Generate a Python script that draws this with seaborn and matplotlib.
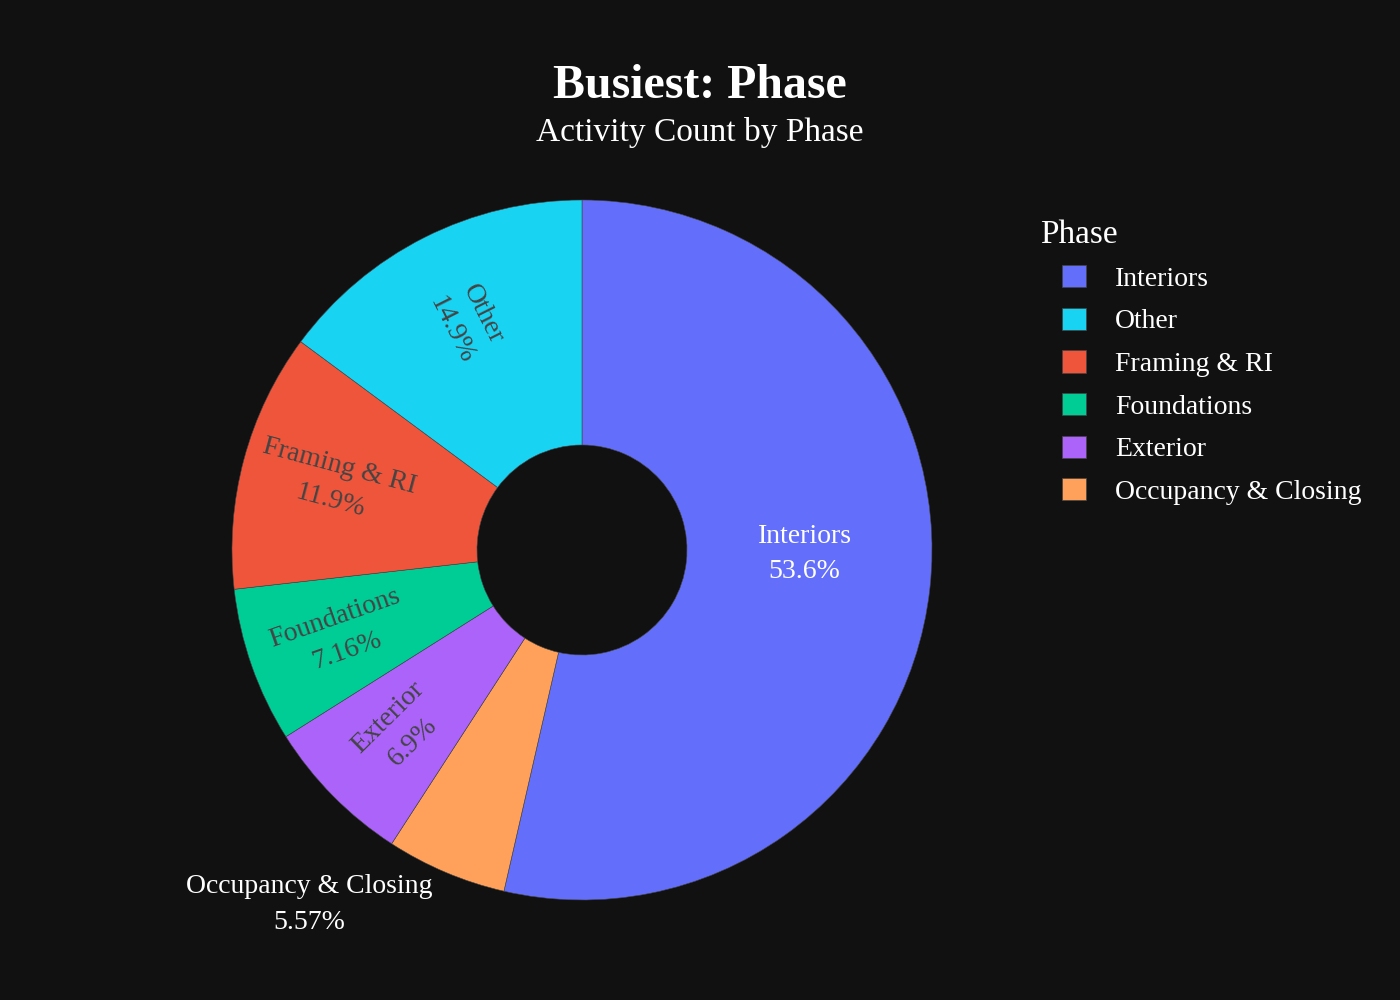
import numpy as np
import matplotlib.pyplot as plt
import seaborn as sns
from matplotlib.patches import Patch

# slices in drawing order (clockwise from 12 o'clock)
phases = ["Interiors", "Occupancy & Closing", "Exterior", "Foundations", "Framing & RI", "Other"]
counts = [202, 21, 26, 27, 45, 56]
colors = ["#636EFA", "#FFA15A", "#AB63FA", "#00CC96", "#EF553B", "#19D3F3"]
label_modes = ["horizontal", "outside", "radial", "radial", "radial", "radial"]
legend_order = ["Interiors", "Other", "Framing & RI", "Foundations", "Exterior", "Occupancy & Closing"]

BG = "#111111"
sns.set_theme(style="dark")
plt.rcParams["font.family"] = ["Liberation Serif", "DejaVu Serif"]

fig = plt.figure(figsize=(14, 10), dpi=100, facecolor=BG)
ax = fig.add_axes([232 / 1400, 100 / 1000, 700 / 1400, 700 / 1000])
ax.set_facecolor(BG)

wedges, _ = ax.pie(counts, colors=colors, startangle=90, counterclock=False,
                   radius=1.0, wedgeprops=dict(width=0.7, edgecolor="#444444", linewidth=0.4))
ax.set_xlim(-1, 1)
ax.set_ylim(-1, 1)
ax.set_aspect("equal")
ax.axis("off")

total = sum(counts)
for w, name, c, mode in zip(wedges, phases, counts, label_modes):
    pct = 100 * c / total
    txt = f"{name}\n{pct:.3g}%"
    mid_deg = ((w.theta1 + w.theta2) / 2) % 360
    mid = np.deg2rad(mid_deg)
    if mode == "outside":
        r = 1.1
        ax.text(r * np.cos(mid), r * np.sin(mid), txt, ha="right", va="center",
                color="white", fontsize=20, linespacing=1.55, multialignment="center")
    elif mode == "horizontal":
        r = 0.64
        ax.text(r * np.cos(mid), r * np.sin(mid) + 0.06, txt, ha="center", va="center",
                color="white", fontsize=20, linespacing=1.55)
    else:
        r = 0.73
        rot = (mid_deg + 90) % 180 - 90
        ax.text(r * np.cos(mid), r * np.sin(mid), txt, ha="center", va="center",
                color="#444444", fontsize=20, linespacing=1.55,
                rotation=rot, rotation_mode="anchor")

fig.text(0.5, 1 - 98 / 1000, "Busiest: Phase", ha="center", va="baseline",
         color="white", fontsize=34.5, fontweight="bold")
fig.text(0.5, 1 - 141 / 1000, "Activity Count by Phase", ha="center", va="baseline",
         color="white", fontsize=24)

fig.text(1040 / 1400, 1 - 243 / 1000, "Phase", ha="left", va="baseline",
         color="white", fontsize=24)
color_map = dict(zip(phases, colors))
handles = [Patch(facecolor=color_map[p], edgecolor="#444444", linewidth=0.5, label=p)
           for p in legend_order]
fig.legend(handles=handles, loc="upper left", bbox_to_anchor=(1051 / 1400, 1 - 254 / 1000),
           frameon=False, fontsize=20, labelcolor="white", handlelength=0.86,
           handleheight=0.86, handletextpad=1.05, labelspacing=0.57, borderaxespad=0)

fig.savefig("out.png", dpi=100, facecolor=BG)
